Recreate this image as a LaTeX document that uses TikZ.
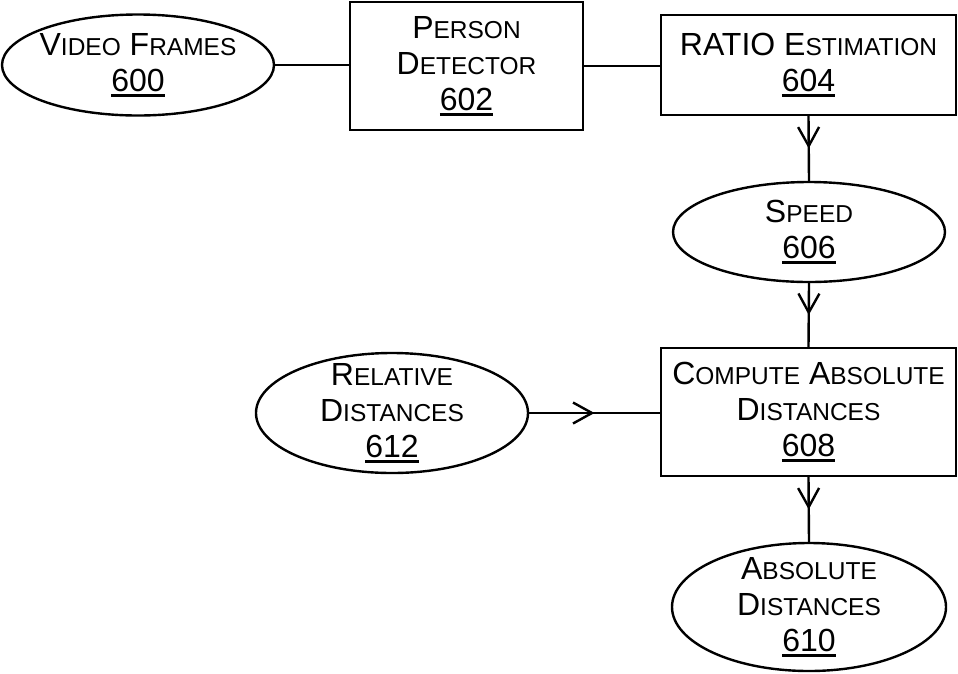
\documentclass[tikz,border=0pt]{standalone}
\usepackage{fontspec}
\setmainfont{Liberation Sans}
\usetikzlibrary{shapes.geometric,arrows.meta,decorations.markings}

% fake small caps: full-size initial, smaller capitals for the rest
\newcommand\SC[2]{#1{\fontsize{24.5}{36}\selectfont #2}}
% underlined reference numeral
\newcommand\refnum[1]{\setbox0\hbox{#1}\rlap{\rule[-5pt]{\wd0}{2.2pt}}\box0}

\begin{document}
\begin{tikzpicture}[x=1pt,y=-1pt,
  txt/.style={font=\fontsize{32}{36}\selectfont, align=center, inner sep=0pt},
  blob/.style={draw, ellipse, line width=2.4pt, inner sep=0pt},
  block/.style={draw, rectangle, line width=2.4pt, inner sep=0pt, txt},
  link/.style={line width=2.4pt},
  flow/.style={line width=2.4pt, postaction={decorate},
    decoration={markings, mark=at position 0.5 with
      {\arrow{Straight Barb[length=19pt,width=21pt,line width=2.4pt]}}}}]
\useasboundingbox (0,0) rectangle (958,673);

% top row
\node[blob, minimum width=272pt, minimum height=101pt] (vf) at (138,65) {};
\node[txt] (vft) at (vf) {\SC{V}{IDEO} \SC{F}{RAMES}\\\refnum{600}};

\node[block, minimum width=233pt, minimum height=128pt] (pd) at (466.5,66)
  {\SC{P}{ERSON}\\\SC{D}{ETECTOR}\\\refnum{602}};

\node[block, minimum width=295pt, minimum height=100pt] (re) at (808.5,65)
  {RATIO \SC{E}{STIMATION}\\\refnum{604}};

% right column
\node[blob, minimum width=272pt, minimum height=100pt] (sp) at (809,232) {};
\node[txt] (spt) at (sp) {\SC{S}{PEED}\\\refnum{606}};

\node[block, minimum width=295pt, minimum height=128pt] (ca) at (808.5,412)
  {\SC{C}{OMPUTE} \SC{A}{BSOLUTE}\\\SC{D}{ISTANCES}\\\refnum{608}};

\node[blob, minimum width=272pt, minimum height=120pt] (rd) at (392,413) {};
\node[txt] (rdt) at (rd) {\SC{R}{ELATIVE}\\\SC{D}{ISTANCES}\\\refnum{612}};

\node[blob, minimum width=274pt, minimum height=128pt] (ad) at (809,607) {};
\node[txt] (adt) at (ad) {\SC{A}{BSOLUTE}\\\SC{D}{ISTANCES}\\\refnum{610}};

% connectors
\draw[link] (vf.east) -- (vf.east -| pd.west);
\draw[link] (pd.east) -- (pd.east -| re.west);
\draw[flow] (re.south) -- (sp.north);
\draw[flow] (sp.south) -- (ca.north);
\draw[flow] (rd.east) -- (rd.east -| ca.west);
\draw[flow] (ca.south) -- (ad.north);
\end{tikzpicture}
\end{document}
